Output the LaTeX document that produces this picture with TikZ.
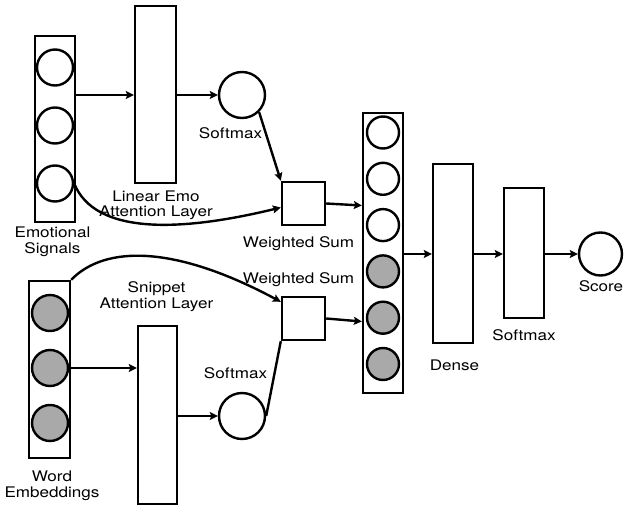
\documentclass[tikz,border=0pt]{standalone}
\usepackage{fontspec}
\setmainfont{TeX Gyre Heros}[FakeStretch=1.17]
\usepackage{tikz}
\usetikzlibrary{arrows.meta,positioning,calc}
\tikzset{>={Stealth[length=8pt,width=8pt,inset=1.5pt]}}
\definecolor{cellgray}{RGB}{169,169,169}
\tikzset{
  layer/.style={draw=black, line width=2.4pt, minimum width=40pt, inner sep=0pt},
  unit/.style={circle, draw=black, line width=2.4pt, inner sep=0pt},
  lbl/.style={anchor=base, align=center, inner sep=0pt, font=\fontsize{14.6}{15.5}\selectfont},
  link/.style={line width=2.4pt},
}

\begin{document}
\begin{tikzpicture}[x=1pt, y=-1pt]
\useasboundingbox (0,0) rectangle (630,514);

\fill node[layer, minimum height=186pt] (emo) at (55,129) {};
\fill node[unit, minimum size=36pt] (e-1) at (55,67.5) {};
\fill node[unit, minimum size=36pt, node distance=58pt, below of=e-1] (e-2) {};
\fill node[unit, minimum size=36pt, node distance=58pt, below of=e-2] (e-3) {};
\fill node[layer, minimum width=41pt, minimum height=177pt] (lin) at (155.5,94.5) {};
\fill node[unit, minimum size=46pt] (sm-1) at (242,95) {};
\fill node[layer, minimum width=43pt, minimum height=43pt] (ws-1) at (303.5,203.5) {};

\fill node[layer, minimum width=41pt, minimum height=177pt] (wb) at (49.5,369.5) {};
\fill node[unit, fill=cellgray, minimum size=36pt] (w-1) at (50,313) {};
\fill node[unit, fill=cellgray, minimum size=36pt, node distance=55pt, below of=w-1] (w-2) {};
\fill node[unit, fill=cellgray, minimum size=36pt, node distance=55pt, below of=w-2] (w-3) {};
\fill node[layer, minimum width=39pt, minimum height=178pt] (snip) at (157.5,415) {};
\fill node[unit, minimum size=46pt] (sm-2) at (242,416) {};
\fill node[layer, minimum width=43pt, minimum height=43pt] (ws-2) at (303.5,318.5) {};

\fill node[layer, minimum height=280pt] (cat) at (383,253) {};
\fill node[unit, minimum size=32pt] (c-1) at (383,132.5) {};
\fill node[unit, minimum size=32pt, node distance=46.3pt, below of=c-1] (c-2) {};
\fill node[unit, minimum size=32pt, node distance=46.3pt, below of=c-2] (c-3) {};
\fill node[unit, fill=cellgray, minimum size=32pt, node distance=46.3pt, below of=c-3] (c-4) {};
\fill node[unit, fill=cellgray, minimum size=32pt, node distance=46.3pt, below of=c-4] (c-5) {};
\fill node[unit, fill=cellgray, minimum size=32pt, node distance=46.3pt, below of=c-5] (c-6) {};
\fill node[layer, minimum height=179pt] (dense) at (453,253.5) {};
\fill node[layer, minimum height=130pt] (smx) at (524,253) {};
\fill node[unit, minimum size=43pt] (score) at (600.5,254) {};

\node[lbl] (emo-l) at (52.5,253) {Emotional\\Signals};
\node[lbl] (lin-l) at (156,216.5) {Linear Emo\\Attention Layer};
\node[lbl] (sm-1-l) at (230.5,138) {Softmax};
\node[lbl] (ws-1-l) at (298.5,247) {Weighted Sum};
\node[lbl] (ws-2-l) at (298.5,283) {Weighted Sum};
\node[lbl] (snip-l) at (156.5,308) {Snippet\\Attention Layer};
\node[lbl] (sm-2-l) at (235.5,378.3) {Softmax};
\node[lbl] (wb-l) at (52,497) {Word\\Embeddings};
\node[lbl] (dense-l) at (454.5,370) {Dense};
\node[lbl] (smx-l) at (524,340) {Softmax};
\node[lbl] (score-l) at (601,291.7) {Score};

\draw[link,->] (emo.east |- sm-1) -- (lin.west |- sm-1);
\draw[link,->] (lin.east |- sm-1) -- (sm-1);
\draw[link,->] (sm-1.-45) -- (ws-1.north west);
\draw[link,->] (e-3.east) .. controls (95,235) and (180,232) .. ([yshift=-4pt]ws-1.west);
\draw[link,->] (ws-1.east) -- ([yshift=-2pt]ws-1.east -| cat.west);

\draw[link,->] (wb.north east) .. controls (105,245) and (175,245) .. ([yshift=-6pt]ws-2.north west);
\draw[link,->] (wb.east |- w-2) -- (snip.west |- w-2);
\draw[link,->] (snip.east |- sm-2) -- (sm-2);
\draw[link] (sm-2.east) -- (ws-2.south west);
\draw[link,->] (ws-2.east) -- ([yshift=-3pt]ws-2.east -| cat.west);

\draw[link,->] (cat.east |- score) -- (dense.west |- score);
\draw[link,->] (dense.east |- score) -- (smx.west |- score);
\draw[link,->] (smx.east |- score) -- (score);
\end{tikzpicture}
\end{document}
